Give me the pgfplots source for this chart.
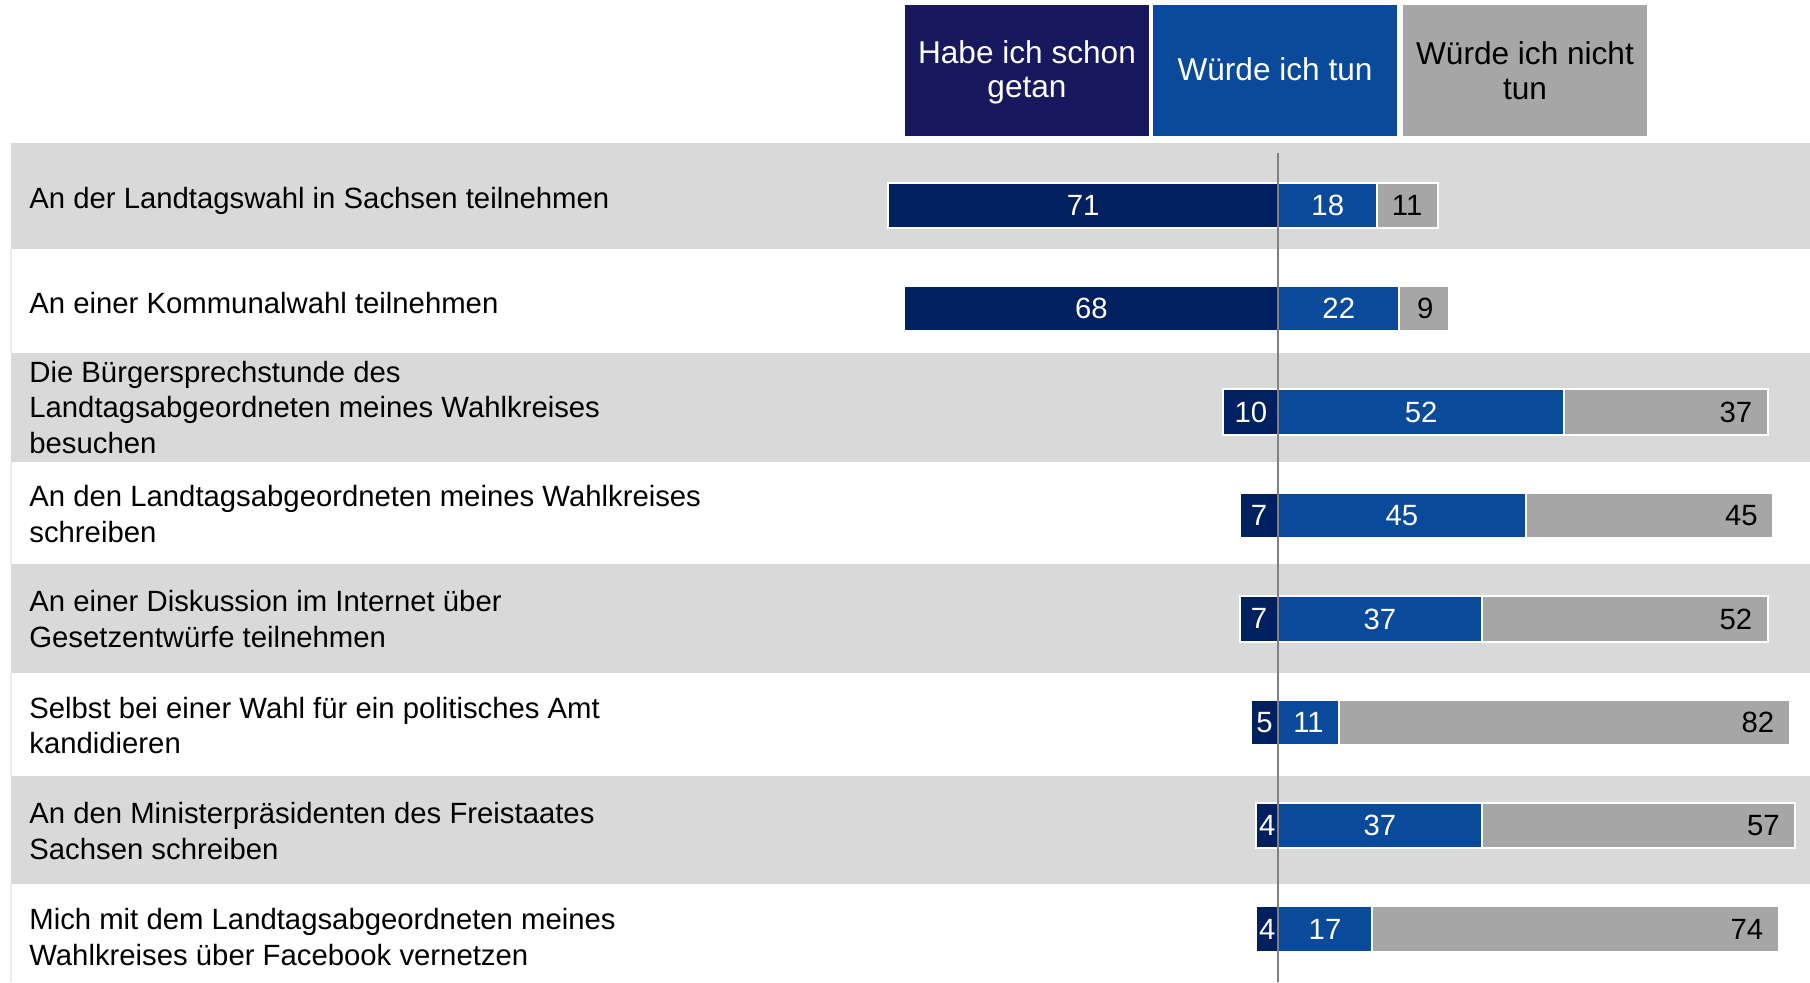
\documentclass[border=0pt]{standalone}
\usepackage{fontspec}
\setmainfont{Liberation Sans}
\usepackage{pgfplots}
\usepackage{pgfplotstable}
\pgfplotsset{compat=1.18}
\definecolor{cdark}{RGB}{0,32,96}
\definecolor{hdark}{RGB}{24,24,94}
\definecolor{cblue}{RGB}{10,74,155}
\definecolor{cgray}{RGB}{166,166,166}
\definecolor{cband}{RGB}{217,217,217}
\definecolor{zline}{RGB}{128,128,128}
\newcommand\txt{\fontsize{14.65}{17.6}\selectfont}
\newcommand\hfont{\fontsize{15.8}{17.3}\selectfont}

\pgfplotstableread{
y d b g
205.3 -71 18 11
308.7 -68 22 9
412.1 -10 52 37
515.5 -7 45 45
618.9 -7 37 52
722.3 -5 11 82
825.7 -4 37 57
929.1 -4 17 74
}\data

\pgfplotsset{base/.style={width=905pt, height=491pt, scale only axis, hide axis,
  xmin=-232.54, xmax=96.73, ymin=0, ymax=982, y dir=reverse, clip=false}}

\begin{document}
\begin{tikzpicture}
% row bands (1 px = 0.5 pt, y measured from the bottom)
\fill[cband] (5.5pt,366.5pt) rectangle (905pt,419.5pt);
\fill[cband] (5.5pt,260pt) rectangle (905pt,314.5pt);
\fill[cband] (5.5pt,154.5pt) rectangle (905pt,209pt);
\fill[cband] (5.5pt,49pt) rectangle (905pt,103pt);
\draw[black!8, line width=0.6pt] (5.5pt,366.5pt) -- (5.5pt,314.5pt);
\draw[black!8, line width=0.6pt] (5.5pt,260pt) -- (5.5pt,209pt);
\draw[black!8, line width=0.6pt] (5.5pt,154.5pt) -- (5.5pt,103pt);
\draw[black!8, line width=0.6pt] (5.5pt,49pt) -- (5.5pt,0pt);
% header boxes
\fill[hdark] (452.5pt,423pt) rectangle (574.5pt,488.5pt);
\fill[cblue] (576.5pt,423pt) rectangle (698.5pt,488.5pt);
\fill[cgray] (701.5pt,423pt) rectangle (823.5pt,488.5pt);
\node[align=center, text=white, font=\hfont, inner sep=0pt] at (513.5pt,454.9pt) {Habe ich schon\\getan};
\node[align=center, text=white, font=\hfont, inner sep=0pt] at (637.5pt,456.3pt) {Würde ich tun};
\node[align=center, text=black, font=\hfont, inner sep=0pt] at (762.5pt,455.6pt) {Würde ich nicht\\tun};

\begin{axis}[base, xbar stacked, bar width=22.7pt]
\addplot[fill=cdark, draw=white, line width=1pt] table[x=d, y=y] {\data};
\addplot[fill=cblue, draw=white, line width=1pt] table[x=b, y=y] {\data};
\addplot[fill=cgray, draw=white, line width=1pt] table[x=g, y=y] {\data};
\end{axis}

\begin{axis}[base]
\addplot[zline, line width=1pt] coordinates {(0,153) (0,982)};
% dark and blue value labels (centred)
\addplot[draw=none, mark=none, point meta=explicit symbolic, nodes near coords,
  nodes near coords style={font=\txt, text=white, inner sep=0pt, anchor=center}]
  table[x=x, y=y, meta=l] {
x y l
-35.5 205.3 71
-34 308.7 68
-5 412.1 10
-3.5 515.5 7
-3.5 618.9 7
-2.5 722.3 5
-2 825.7 4
-2 929.1 4
9 205.3 18
11 308.7 22
26 412.1 52
22.5 515.5 45
18.5 618.9 37
5.5 722.3 11
18.5 825.7 37
8.5 929.1 17
};
% gray value labels (inside end)
\addplot[draw=none, mark=none, point meta=explicit symbolic, nodes near coords,
  nodes near coords style={font=\txt, text=black, inner sep=0pt, anchor=east, xshift=-7.5pt}]
  table[x=x, y=y, meta=l] {
x y l
29 205.3 11
31 308.7 9
89 412.1 37
90 515.5 45
89 618.9 52
93 722.3 82
94 825.7 57
91 929.1 74
};
% row labels
\begin{scope}[every node/.style={anchor=west, align=left, font=\txt, inner sep=0pt}]
\node at (axis cs:-227.27,201) {An der Landtagswahl in Sachsen teilnehmen};
\node at (axis cs:-227.27,303) {An einer Kommunalwahl teilnehmen};
\node at (axis cs:-227.27,407.5) {Die Bürgersprechstunde des\\Landtagsabgeordneten meines Wahlkreises\\besuchen};
\node at (axis cs:-227.27,514) {An den Landtagsabgeordneten meines Wahlkreises\\schreiben};
\node at (axis cs:-227.27,619) {An einer Diskussion im Internet über\\Gesetzentwürfe teilnehmen};
\node at (axis cs:-227.27,725.5) {Selbst bei einer Wahl für ein politisches Amt\\kandidieren};
\node at (axis cs:-227.27,831) {An den Ministerpräsidenten des Freistaates\\Sachsen schreiben};
\node at (axis cs:-227.27,937) {Mich mit dem Landtagsabgeordneten meines\\Wahlkreises über Facebook vernetzen};
\end{scope}
\end{axis}
\pgfresetboundingbox
\path (0,0) rectangle (905pt,491pt);
\end{tikzpicture}
\end{document}
